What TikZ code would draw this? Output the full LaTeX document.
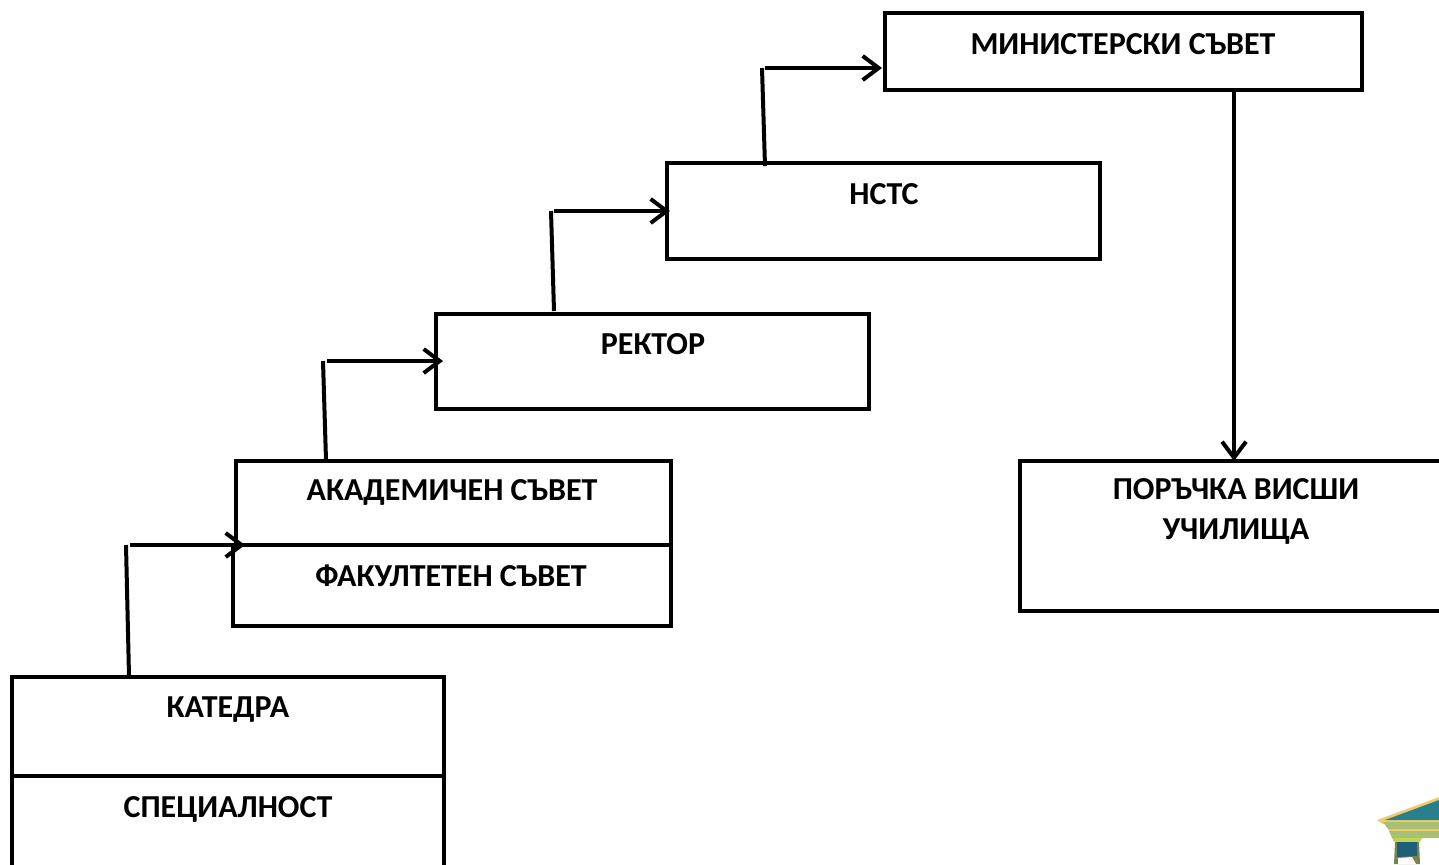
\documentclass[tikz,border=0pt]{standalone}
\usepackage{fontspec}
\setmainfont{Carlito}
\usetikzlibrary{arrows.meta}
\definecolor{logoteal}{HTML}{2A7F8C}
\definecolor{logogold}{HTML}{EFCB6A}
\definecolor{logogreen}{HTML}{A9BF74}
\definecolor{logodark}{HTML}{1F5F78}
\tikzset{
    stepbox/.style={draw=black,line width=2pt,anchor=north west,inner sep=0pt,outer sep=0pt},
    boxlabel/.style={font=\bfseries\fontsize{16}{20}\selectfont,align=center,inner sep=0pt},
    linkline/.style={draw=black,line width=2pt},
    linkarrow/.style={linkline,-{Straight Barb[length=8pt,width=12pt,line width=2pt]}}
}
\begin{document}
\begin{tikzpicture}[x=0.5pt,y=-0.5pt]
    \useasboundingbox (0,0) rectangle (1439,864);
    \clip (0,0) rectangle (1439,864);
    % boxes
    \node[stepbox,minimum width=238.5pt,minimum height=38.5pt] (ministers) at (885,13) {};
    \node[stepbox,minimum width=216.5pt,minimum height=48pt] (nstc) at (667,163) {};
    \node[stepbox,minimum width=216.5pt,minimum height=47.5pt] (rector) at (436,314) {};
    \node[stepbox,minimum width=217.5pt,minimum height=42pt] (academic) at (236,461) {};
    \node[stepbox,minimum width=219pt,minimum height=40.5pt] (faculty) at (233,545) {};
    \node[stepbox,minimum width=216pt,minimum height=49.5pt] (chair) at (12,677) {};
    \node[stepbox,minimum width=216pt,minimum height=49.5pt] (major) at (12,776) {};
    \node[stepbox,minimum width=213pt,minimum height=75pt] (order) at (1020,461) {};
    % labels
    \node[boxlabel] (ministersText) at (1123,44) {МИНИСТЕРСКИ СЪВЕТ};
    \node[boxlabel] (nstcText) at (884,194) {НСТС};
    \node[boxlabel] (rectorText) at (653,344) {РЕКТОР};
    \node[boxlabel] (academicText) at (452,492.5) {АКАДЕМИЧЕН СЪВЕТ};
    \node[boxlabel] (facultyText) at (451,576) {ФАКУЛТЕТЕН СЪВЕТ};
    \node[boxlabel] (chairText) at (228,710) {КАТЕДРА};
    \node[boxlabel] (majorText) at (228,809) {СПЕЦИАЛНОСТ};
    \node[boxlabel] (orderText) at (1236,511) {ПОРЪЧКА ВИСШИ\\УЧИЛИЩА};
    % connectors
    \coordinate (chairUp) at (126,545);
    \coordinate (chairOut) at (130,545);
    \coordinate (facultyIn) at (245,545);
    \draw[linkline] (129,676) -- (chairUp);
    \draw[linkarrow] (chairOut) -- (facultyIn);
    \coordinate (academicUp) at (323,361);
    \coordinate (academicOut) at (327,361);
    \coordinate (rectorIn) at (443,361);
    \draw[linkline] (326,460) -- (academicUp);
    \draw[linkarrow] (academicOut) -- (rectorIn);
    \coordinate (rectorUp) at (551,211);
    \coordinate (rectorOut) at (554,211);
    \coordinate (nstcIn) at (670,211);
    \draw[linkline] (554,311) -- (rectorUp);
    \draw[linkarrow] (rectorOut) -- (nstcIn);
    \coordinate (nstcUp) at (762,68);
    \coordinate (nstcOut) at (765,68);
    \coordinate (ministersIn) at (882,68);
    \draw[linkline] (765,166) -- (nstcUp);
    \draw[linkarrow] (nstcOut) -- (ministersIn);
    \coordinate (ministersDown) at (1234,90);
    \coordinate (orderIn) at (1234,461);
    \draw[linkarrow] (ministersDown) -- (orderIn);
    % logo corner
    \fill[logogold] (1377,820) -- (1439,797) -- (1439,822) -- (1383,824) -- cycle;
    \fill[logoteal] (1385,820) -- (1439,800) -- (1439,820) -- cycle;
    \fill[logogreen] (1383,822) -- (1439,822) -- (1439,829) -- (1388,829) -- cycle;
    \fill[logogold] (1388,829) -- (1439,829) -- (1439,831) -- (1389,831) -- cycle;
    \fill[logogreen] (1389,831) -- (1439,831) -- (1439,838) -- (1392,838) -- cycle;
    \fill[logogold!80!green] (1392,838) -- (1422,838) -- (1420,842) -- (1394,842) -- cycle;
    \fill[logogreen!70!black] (1395,842) -- (1419,842) -- (1420,864) -- (1394,864) -- cycle;
    \fill[logodark] (1397,842) -- (1417,842) -- (1417,856) -- (1397,857) -- cycle;
    \fill[white] (1398,864) -- (1398,858) -- (1412,857) -- (1416,864) -- cycle;
\end{tikzpicture}
\end{document}
